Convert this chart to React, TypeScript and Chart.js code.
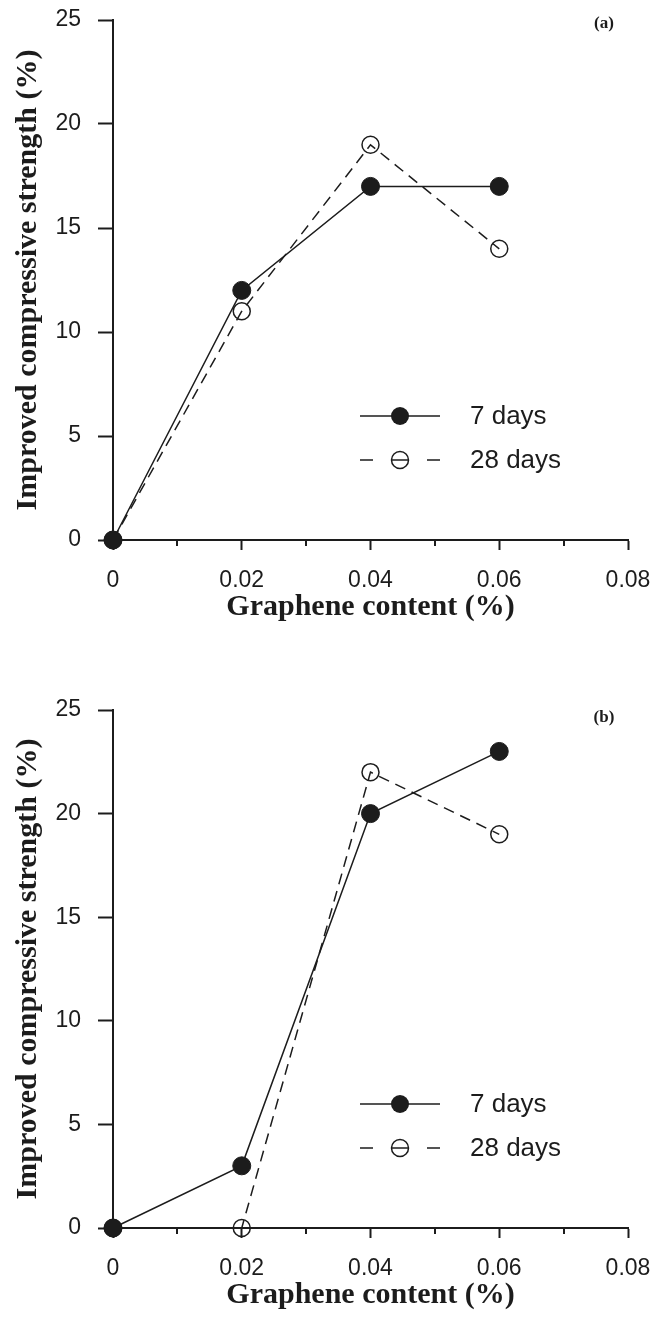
import React, { useEffect, useRef } from 'react';
import { Chart, registerables } from 'chart.js';

Chart.register(...registerables);

// ---------- data ----------
const contents = [0, 0.02, 0.04, 0.06];
const a7days = [0, 12, 17, 17];
const a28days = [0, 11, 19, 14];
const b7days = [0, 3, 20, 23];
const b28days = [0, 0, 22, 19];
const xTicks = [0, 0.02, 0.04, 0.06, 0.08];
const xTickLabels = ['0', '0.02', '0.04', '0.06', '0.08'];
const xMinorTicks = [0.01, 0.03, 0.05, 0.07];
const yTicks = [0, 5, 10, 15, 20, 25];
const yTickLabels = ['0', '5', '10', '15', '20', '25'];
const seriesNames = ['7 days', '28 days'];
const panelLabels = ['(a)', '(b)'];
const xTitle = 'Graphene content (%)';
const yTitle = 'Improved compressive strength (%)';

// ---------- style ----------
const INK = '#1c1c1c';
const SANS = '"Liberation Sans", Arial, sans-serif';
const SERIF = '"Liberation Serif", "Times New Roman", serif';
const W = 656;

type PanelProps = {
  s7: number[];
  s28: number[];
  label: string;
  height: number;
  areaTop: number;
  areaBottom: number;
  labelDy: number;
};

const zeroPadding = (s: any) => {
  s.paddingTop = 0;
  s.paddingBottom = 0;
  s.paddingLeft = 0;
  s.paddingRight = 0;
};

const decorPlugin = {
  id: 'decor',
  afterDraw(chart: any) {
    const { ctx, chartArea } = chart;
    const xs = chart.scales.x;
    const opts = chart.options.plugins.decor;
    ctx.save();
    // minor x ticks
    ctx.strokeStyle = INK;
    ctx.lineWidth = 2;
    xMinorTicks.forEach((v) => {
      const px = Math.round(xs.getPixelForValue(v));
      ctx.beginPath();
      ctx.moveTo(px, chartArea.bottom);
      ctx.lineTo(px, chartArea.bottom + 6);
      ctx.stroke();
    });
    // legend
    const rowsOffset = [124, 80];
    chart.data.datasets.forEach((ds: any, i: number) => {
      const y = chartArea.bottom - rowsOffset[i];
      const x0 = chartArea.left + 247;
      const x1 = chartArea.left + 327;
      const xm = (x0 + x1) / 2;
      ctx.save();
      ctx.strokeStyle = INK;
      ctx.lineWidth = 1.5;
      if (i === 1) ctx.setLineDash([13, 54]);
      ctx.beginPath();
      ctx.moveTo(x0, y);
      ctx.lineTo(x1, y);
      ctx.stroke();
      ctx.setLineDash([]);
      ctx.beginPath();
      ctx.arc(xm, y, i === 0 ? 9 : 8.5, 0, Math.PI * 2);
      if (i === 0) {
        ctx.fillStyle = INK;
        ctx.fill();
      } else {
        ctx.lineWidth = 1.5;
        ctx.stroke();
        ctx.beginPath();
        ctx.moveTo(xm - 8.5, y);
        ctx.lineTo(xm + 8.5, y);
        ctx.stroke();
      }
      ctx.fillStyle = INK;
      ctx.font = `26px ${SANS}`;
      ctx.textAlign = 'left';
      ctx.textBaseline = 'middle';
      ctx.fillText(ds.label, chartArea.left + 357, y + 1);
      ctx.restore();
    });
    // panel label
    ctx.fillStyle = INK;
    ctx.font = `bold 17px ${SERIF}`;
    ctx.textAlign = 'center';
    ctx.textBaseline = 'middle';
    ctx.fillText(opts.text, chartArea.right - 24, chartArea.top + opts.dy);
    ctx.restore();
  },
};

function Panel({ s7, s28, label, height, areaTop, areaBottom, labelDy }: PanelProps) {
  const ref = useRef<HTMLCanvasElement | null>(null);
  useEffect(() => {
    if (!ref.current) return;
    const xTitlePadBottom = height - (areaBottom + 67) - 18;
    const chart = new Chart(ref.current, {
      type: 'line',
      data: {
        datasets: [
          {
            label: seriesNames[0],
            data: contents.map((x, i) => ({ x, y: s7[i] })),
            borderColor: INK,
            borderWidth: 1.5,
            pointRadius: 9,
            pointBackgroundColor: INK,
            pointBorderColor: INK,
            pointBorderWidth: 1,
            clip: false,
            tension: 0,
          },
          {
            label: seriesNames[1],
            data: contents.map((x, i) => ({ x, y: s28[i] })),
            borderColor: INK,
            borderWidth: 1.5,
            borderDash: [11, 7],
            pointRadius: 8.5,
            pointBackgroundColor: 'rgba(0,0,0,0)',
            pointBorderColor: INK,
            pointBorderWidth: 1.5,
            clip: false,
            tension: 0,
          },
        ],
      } as any,
      options: {
        animation: false,
        responsive: false,
        maintainAspectRatio: false,
        layout: { padding: { top: areaTop, right: W - 628, left: 0, bottom: 0 } },
        plugins: {
          legend: { display: false },
          tooltip: { enabled: false },
          decor: { text: label, dy: labelDy },
        } as any,
        scales: {
          x: {
            type: 'linear',
            min: 0,
            max: 0.08,
            afterBuildTicks: (s: any) => {
              s.ticks = xTicks.map((v) => ({ value: v }));
            },
            afterFit: (s: any) => {
              s.height = height - areaBottom;
              zeroPadding(s);
            },
            grid: {
              drawOnChartArea: false,
              drawTicks: true,
              tickLength: 10,
              tickWidth: 2,
              tickColor: INK,
            },
            border: { display: true, color: INK, width: 2 },
            ticks: {
              font: { family: SANS, size: 23 },
              color: INK,
              padding: 17,
              maxRotation: 0,
              autoSkip: false,
              callback: (v: any) => xTickLabels[xTicks.indexOf(Number(v))],
            },
            title: {
              display: true,
              text: xTitle,
              font: { family: SERIF, size: 30, weight: 'bold' },
              color: INK,
              padding: { top: 0, bottom: xTitlePadBottom },
            },
          },
          y: {
            type: 'linear',
            min: 0,
            max: 25,
            afterBuildTicks: (s: any) => {
              s.ticks = yTicks.map((v) => ({ value: v }));
            },
            afterFit: (s: any) => {
              s.width = 113;
              zeroPadding(s);
            },
            grid: {
              drawOnChartArea: false,
              drawTicks: true,
              tickLength: 15,
              tickWidth: 2,
              tickColor: INK,
            },
            border: { display: true, color: INK, width: 2 },
            ticks: {
              font: { family: SANS, size: 23 },
              color: INK,
              padding: 17,
              callback: (v: any) => yTickLabels[yTicks.indexOf(Number(v))],
            },
            title: {
              display: true,
              text: yTitle,
              font: { family: SERIF, size: 30, weight: 'bold' },
              color: INK,
              padding: { top: 10, bottom: 0 },
            },
          },
        },
      } as any,
      plugins: [decorPlugin],
    });
    return () => chart.destroy();
  }, [s7, s28, label, height, areaTop, areaBottom, labelDy]);
  return (
    <canvas
      ref={ref}
      width={W}
      height={height}
      style={{ display: 'block', width: W, height }}
    />
  );
}

export default function App() {
  return (
    <div
      style={{
        position: 'absolute',
        left: 0,
        top: 0,
        width: W,
        height: 1324,
        background: '#fff',
      }}
    >
      <Panel s7={a7days} s28={a28days} label={panelLabels[0]} height={662} areaTop={20} areaBottom={540} labelDy={4} />
      <Panel s7={b7days} s28={b28days} label={panelLabels[1]} height={662} areaTop={48} areaBottom={566} labelDy={8} />
    </div>
  );
}
